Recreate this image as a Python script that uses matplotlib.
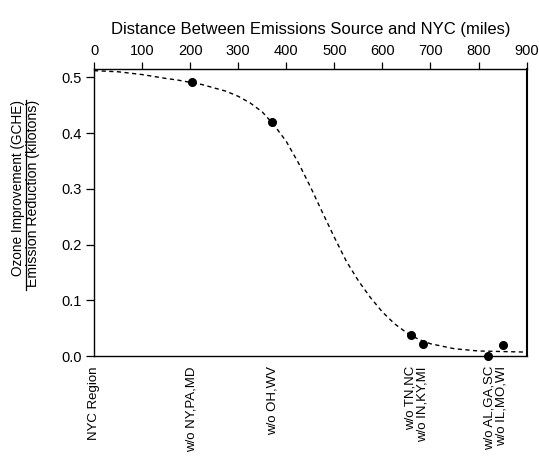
import matplotlib
matplotlib.use("Agg")
import matplotlib.pyplot as plt
from matplotlib.lines import Line2D

plt.rcParams['font.family'] = ['Liberation Sans', 'DejaVu Sans']

# Observed points (distance in miles, ozone improvement per emission reduction)
point_miles = [203, 371, 660, 684, 819, 851]
point_values = [0.491, 0.419, 0.038, 0.021, 0.000, 0.020]

# Fitted curve
curve_miles = [0, 50, 100, 150, 175, 200, 225, 250, 275, 300, 325, 350, 375, 400, 425, 450,
               475, 500, 525, 550, 575, 600, 625, 650, 675, 700, 750, 800, 850, 900]
curve_values = [0.512, 0.510, 0.505, 0.498, 0.495, 0.491, 0.487, 0.481, 0.475, 0.466,
                0.454, 0.438, 0.414, 0.385, 0.347, 0.304, 0.258, 0.213, 0.170, 0.135,
                0.105, 0.079, 0.058, 0.042, 0.030, 0.022, 0.013, 0.009, 0.008, 0.007]

# Bottom category labels
region_miles = [0, 203, 371, 672, 835]
region_labels = ["NYC Region", "w/o NY,PA,MD", "w/o OH,WV",
                 "w/o TN,NC\nw/o IN,KY,MI", "w/o AL,GA,SC\nw/o IL,MO,WI"]

top_ticks = [0, 100, 200, 300, 400, 500, 600, 700, 800, 900]
y_ticks = [0.0, 0.1, 0.2, 0.3, 0.4, 0.5]

fig = plt.figure(figsize=(5.39, 4.68), dpi=100)
ax = fig.add_axes([0.1744, 0.2393, 0.8026, 0.6133])

ax.plot(curve_miles, curve_values, color='black', lw=1.0, ls=(0, (3, 2.5)))
ax.plot(point_miles, point_values, 'o', color='black', ms=5.5, clip_on=False, zorder=5)

ax.set_xlim(0, 900)
ax.set_ylim(0, 0.515)

# top axis with distances
ax.xaxis.set_ticks_position('top')
ax.xaxis.set_label_position('top')
ax.set_xticks(top_ticks)
ax.set_xticklabels([str(t) for t in top_ticks], fontsize=10.5)
ax.tick_params(axis='x', direction='out', length=5, width=0.9, pad=3)
ax.set_xlabel("Distance Between Emissions Source and NYC (miles)", fontsize=12, labelpad=7)

ax.set_yticks(y_ticks)
ax.set_yticklabels([f"{v:.1f}" for v in y_ticks], fontsize=10.5)
ax.tick_params(axis='y', direction='out', length=6, width=0.9, pad=3)

for s in ax.spines.values():
    s.set_linewidth(1.0)
ax.spines['right'].set_linewidth(1.5)

# bottom category labels
for m, lab in zip(region_miles, region_labels):
    ax.text(m, -0.018, lab, rotation=90, ha='center', va='top',
            fontsize=9.5, transform=ax.transData, linespacing=1.0, multialignment='right')

# y-axis label as fraction
fig.text(0.034, 0.786, "Ozone Improvement (GCHE)", rotation=90, ha='center', va='top', fontsize=9.8)
fig.text(0.062, 0.786, "Emission Reduction (kilotons)", rotation=90, ha='center', va='top', fontsize=10.2)
fig.add_artist(Line2D([0.048, 0.048], [0.786, 0.38], transform=fig.transFigure, color='black', lw=0.9))

fig.savefig("out.png", dpi=100)
